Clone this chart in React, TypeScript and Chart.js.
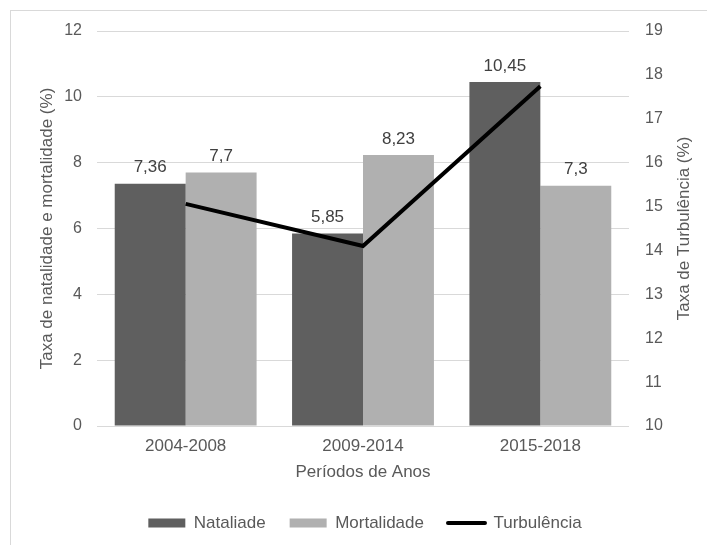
import React, { useEffect, useRef } from "react";
import { Chart, registerables } from "chart.js";

Chart.register(...registerables);

const categories = ["2004-2008", "2009-2014", "2015-2018"];
const natalidade = [7.36, 5.85, 10.45];
const mortalidade = [7.7, 8.23, 7.3];
const turbulencia = [15.06, 14.1, 17.74];
const seriesNames = ["Nataliade", "Mortalidade", "Turbulência"];
const leftTitle = "Taxa de natalidade e mortalidade (%)";
const rightTitle = "Taxa de Turbulência (%)";
const xTitle = "Períodos de Anos";

const FONT = '"Liberation Sans", Arial, sans-serif';
const TEXT = "#595959";
const GRID = "#d9d9d9";
const DARK = "#5f5f5f";
const LIGHT = "#b0b0b0";

const extrasPlugin = {
  id: "extras",
  afterDatasetsDraw(chart: any) {
    const ctx = chart.ctx;
    ctx.save();
    ctx.font = `17px ${FONT}`;
    ctx.fillStyle = "#404040";
    ctx.textAlign = "center";
    ctx.textBaseline = "alphabetic";
    chart.data.datasets.forEach((ds: any, i: number) => {
      if (ds.type === "line") return;
      const meta = chart.getDatasetMeta(i);
      meta.data.forEach((el: any, j: number) => {
        const v = ds.data[j];
        ctx.fillText(String(v).replace(".", ","), el.x, el.y - 11.5);
      });
    });
    const ca = chart.chartArea;
    ctx.fillStyle = TEXT;
    ctx.textBaseline = "middle";
    ctx.translate(684, (ca.top + ca.bottom) / 2);
    ctx.rotate(-Math.PI / 2);
    ctx.fillText(rightTitle, 0, 0);
    ctx.restore();
  },
};

export default function App() {
  const ref = useRef<HTMLCanvasElement>(null);
  useEffect(() => {
    if (!ref.current) return;
    Chart.defaults.color = TEXT;
    Chart.defaults.font.family = FONT;
    const chart = new Chart(ref.current, {
      type: "bar",
      data: {
        labels: categories,
        datasets: [
          {
            type: "bar",
            label: seriesNames[0],
            data: natalidade,
            backgroundColor: DARK,
            borderWidth: 0,
            yAxisID: "y",
            order: 1,
            categoryPercentage: 0.8,
            barPercentage: 1,
          } as any,
          {
            type: "bar",
            label: seriesNames[1],
            data: mortalidade,
            backgroundColor: LIGHT,
            borderWidth: 0,
            yAxisID: "y",
            order: 1,
            categoryPercentage: 0.8,
            barPercentage: 1,
          } as any,
          {
            type: "line",
            label: seriesNames[2],
            data: turbulencia,
            borderColor: "#000",
            backgroundColor: "#000",
            borderWidth: 4,
            pointRadius: 0,
            pointHoverRadius: 0,
            yAxisID: "y1",
            order: 0,
          } as any,
        ],
      },
      options: {
        responsive: false,
        animation: false,
        devicePixelRatio: 1,
        layout: { padding: { left: 33, right: 10, top: 31, bottom: 3.5 } },
        plugins: {
          tooltip: { enabled: false },
          legend: {
            position: "bottom",
            labels: {
              usePointStyle: true,
              pointStyleWidth: 37,
              boxHeight: 9,
              padding: 24,
              color: TEXT,
              font: { size: 17, family: FONT },
              generateLabels: (chart: any) =>
                chart.data.datasets.map((ds: any, i: number) => ({
                  text: ds.label,
                  fillStyle: ds.type === "line" ? "#000" : ds.backgroundColor,
                  strokeStyle: "#000",
                  lineWidth: ds.type === "line" ? 4 : 0,
                  lineCap: "round",
                  pointStyle: ds.type === "line" ? "line" : "rect",
                  hidden: false,
                  datasetIndex: i,
                  fontColor: TEXT,
                })),
            },
          },
        },
        scales: {
          x: {
            grid: { display: false, drawTicks: false },
            border: { display: false },
            ticks: { padding: 10, font: { size: 17 }, color: TEXT },
            title: {
              display: true,
              text: xTitle,
              font: { size: 17 },
              color: TEXT,
              padding: { top: 4, bottom: 8 },
            },
            afterFit: (s: any) => {
              s.height = 64.5;
            },
          },
          y: {
            position: "left",
            min: 0,
            max: 12,
            ticks: { stepSize: 2, padding: 15, font: { size: 16 }, color: TEXT },
            grid: { color: GRID, drawTicks: false, lineWidth: 1 },
            border: { display: false },
            title: {
              display: true,
              text: leftTitle,
              font: { size: 17 },
              color: TEXT,
              padding: { top: 4, bottom: 4 },
            },
            afterFit: (s: any) => {
              s.width = 64;
            },
          },
          y1: {
            position: "right",
            min: 10,
            max: 19,
            ticks: { stepSize: 1, padding: 16, font: { size: 16 }, color: TEXT },
            grid: { display: false, drawTicks: false },
            border: { display: false },
            afterFit: (s: any) => {
              s.width = 68;
            },
          },
        },
      } as any,
      plugins: [extrasPlugin],
    });
    return () => chart.destroy();
  }, []);

  return (
    <div
      style={{
        position: "absolute",
        left: 0,
        top: 0,
        width: 707,
        height: 545,
        overflow: "hidden",
        background: "#fff",
      }}
    >
      <div
        style={{
          position: "absolute",
          left: 10,
          top: 10,
          width: 800,
          height: 700,
          borderLeft: `1px solid ${GRID}`,
          borderTop: `1px solid ${GRID}`,
        }}
      />
      <canvas
        ref={ref}
        width={707}
        height={545}
        style={{ position: "absolute", left: 0, top: 0, width: 707, height: 545, display: "block" }}
      />
    </div>
  );
}
